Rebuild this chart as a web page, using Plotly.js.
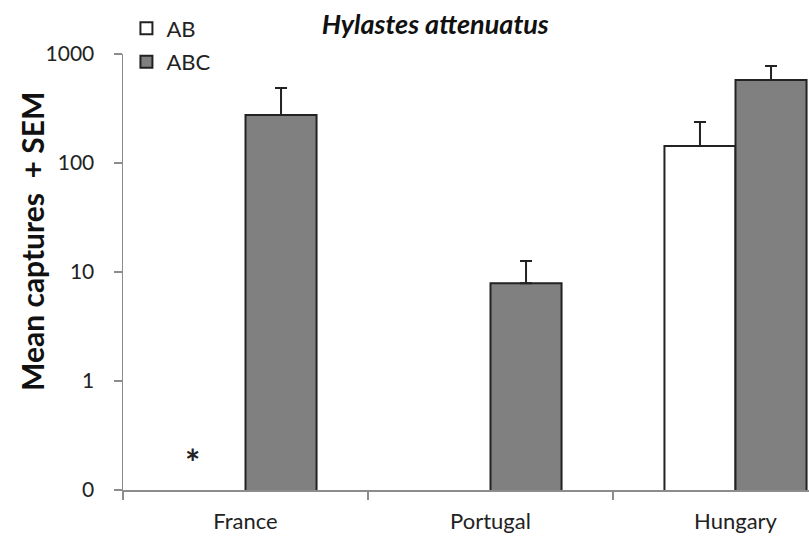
<!DOCTYPE html>
<html>
<head>
<meta charset="utf-8">
<script src="https://cdn.plot.ly/plotly-3.0.1.min.js"></script>
<style>html,body{margin:0;padding:0;background:#fff;}#chart{width:809px;height:541px;}</style>
</head>
<body>
<div id="chart"></div>
<script>
const countries = ['France', 'Portugal', 'Hungary'];
const abMeans = [null, null, 143];
const abSem = [null, null, 95];
const abcMeans = [275, 7.9, 577];
const abcSem = [213, 4.7, 200];
const significance = ['*', '', ''];
const yTickVals = [0.1, 1, 10, 100, 1000];
const yTickText = ['0', '1', '10', '100', '1000'];

const FONT = 'Lato, "Open Sans", sans-serif';
const axisGrey = '#8c8c8c';
const ink = '#222222';

const traces = [
  {
    type: 'bar', name: 'AB', x: countries, y: abMeans, legendgroup: 'a',
    marker: {color: '#ffffff', line: {color: ink, width: 2}},
    error_y: {type: 'data', array: abSem, arrayminus: abSem.map(() => 0), symmetric: false,
              color: ink, thickness: 2, width: 6}
  },
  {
    type: 'bar', name: 'ABC', x: countries, y: abcMeans, legendgroup: 'b',
    marker: {color: '#808080', line: {color: ink, width: 2}},
    error_y: {type: 'data', array: abcSem, arrayminus: abcSem.map(() => 0), symmetric: false,
              color: ink, thickness: 2, width: 6}
  }
];

const annotations = [];
countries.forEach((c, i) => {
  if (significance[i]) {
    annotations.push({x: c, y: -0.745, xref: 'x', yref: 'y', text: '<b>' + significance[i] + '</b>',
      showarrow: false, xshift: -53, font: {family: FONT, size: 36, color: '#222'}});
  }
});
annotations.push({
  text: '<b>Mean captures  + SEM</b>', xref: 'paper', yref: 'paper', x: 0, y: 0.569,
  xanchor: 'center', yanchor: 'middle', xshift: -91, textangle: -90, showarrow: false,
  font: {family: FONT, size: 30, color: '#111'}
});

const layout = {
  width: 809, height: 541,
  margin: {l: 123, r: 0, t: 54, b: 51},
  paper_bgcolor: '#ffffff', plot_bgcolor: '#ffffff',
  font: {family: FONT, size: 20, color: '#222222'},
  title: {text: '<b><i>Hylastes attenuatus</i></b>', x: 0.538, xanchor: 'center', y: 0.955, yanchor: 'middle',
          font: {family: FONT, size: 27, color: '#111'}},
  barmode: 'group', bargap: 0.42, bargroupgap: 0,
  xaxis: {
    range: [-0.5, 2.3], showline: true, linecolor: axisGrey, linewidth: 1.5,
    ticks: 'outside', tickson: 'boundaries', ticklen: 8, tickcolor: axisGrey, tickwidth: 1.5,
    ticklabelstandoff: 11, tickfont: {family: FONT, size: 22, color: '#222'},
    showgrid: false, zeroline: false, fixedrange: true
  },
  yaxis: {
    type: 'log', range: [-1, 3], showline: true, linecolor: axisGrey, linewidth: 1.5,
    ticks: 'outside', ticklen: 8, tickcolor: axisGrey, tickwidth: 1.5,
    tickvals: yTickVals, ticktext: yTickText, ticklabelstandoff: 15,
    tickfont: {family: FONT, size: 21, color: '#222'},
    showgrid: false, zeroline: false
  },
  showlegend: true,
  legend: {x: 0.005, xanchor: 'left', y: 1.107, yanchor: 'top', bgcolor: 'rgba(0,0,0,0)',
           font: {family: FONT, size: 22, color: '#222'}, tracegroupgap: 2, itemwidth: 30,
           traceorder: 'grouped'},
  annotations: annotations
};

Plotly.newPlot('chart', traces, layout, {displayModeBar: false, staticPlot: true});
</script>
</body>
</html>
